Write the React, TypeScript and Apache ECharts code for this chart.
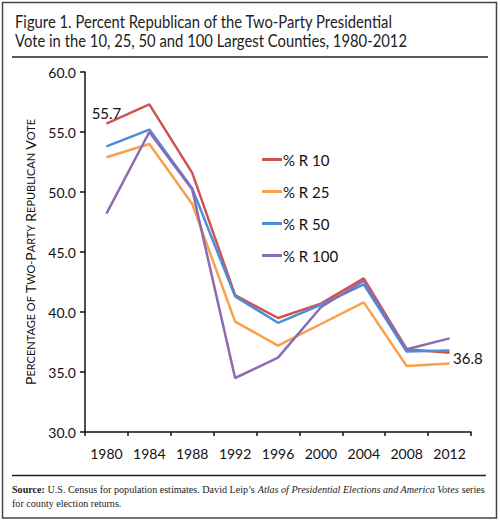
import React, { useEffect, useRef } from "react";
import * as echarts from "echarts";

const years = ["1980", "1984", "1988", "1992", "1996", "2000", "2004", "2008", "2012"];
const r10 = [55.7, 57.3, 51.6, 41.4, 39.5, 40.7, 42.8, 36.9, 36.6];
const r25 = [52.9, 54.0, 49.0, 39.2, 37.2, 39.0, 40.8, 35.5, 35.7];
const r50 = [53.8, 55.2, 50.3, 41.3, 39.1, 40.6, 42.3, 36.7, 36.8];
const r100 = [48.2, 55.0, 50.2, 34.5, 36.2, 40.4, 42.6, 36.9, 37.8];
const seriesNames = ["% R 10", "% R 25", "% R 50", "% R 100"];
const colors = ["#cf5450", "#f9a04b", "#4a8dd8", "#8c6bb1"];
const yTicks = { min: 30, max: 60, interval: 5 };

const titleLines = [
  "Figure 1. Percent Republican of the Two-Party Presidential",
  "Vote in the 10, 25, 50 and 100 Largest Counties, 1980-2012",
];
const sourceLine1 =
  "{b|Source:} U.S. Census for population estimates. David Leip\u2019s {i|Atlas of Presidential Elections and America Votes} series";
const sourceLine2 = "for county election returns.";

const FONT = "Lato, 'Open Sans', sans-serif";
const SERIF = "'Liberation Serif', 'DejaVu Serif', serif";

function measure(font: string, text: string): number {
  const c = document.createElement("canvas").getContext("2d");
  if (!c) return text.length * 5;
  c.font = font;
  return c.measureText(text).width;
}

export default function App() {
  const ref = useRef<HTMLDivElement>(null);
  useEffect(() => {
    if (!ref.current) return;
    const chart = echarts.init(ref.current, undefined, { renderer: "svg" });

    const fs = 11;
    const w1 =
      measure(`bold ${fs}px ${SERIF}`, "Source:") +
      measure(`${fs}px ${SERIF}`, " U.S. Census for population estimates. David Leip\u2019s ") +
      measure(`italic ${fs}px ${SERIF}`, "Atlas of Presidential Elections and America Votes") +
      measure(`${fs}px ${SERIF}`, " series");
    const sx = 473 / w1;

    const tfs = 17;
    const tw = measure(`${tfs}px ${FONT}`, titleLines[0]);
    const tsx = 378 / tw;

    const mkLabel = (position: string, offset: number[]) => ({
      show: true,
      position,
      distance: 3,
      offset,
      formatter: (p: any) => Number(p.value).toFixed(1),
      fontSize: 15,
      fontFamily: FONT,
      color: "#111",
    });

    const allData = [r10, r25, r50, r100];
    const series = allData.map((d, i) => ({
      name: seriesNames[i],
      type: "line",
      symbol: "circle",
      symbolSize: 1,
      showSymbol: true,
      data: d.map((v, j) => {
        if (i === 0 && j === 0) {
          return { value: v, label: mkLabel("top", [0, 0]) };
        }
        if (i === 2 && j === d.length - 1) {
          return { value: v, label: mkLabel("right", [0, 8]) };
        }
        return v;
      }),
      lineStyle: { color: colors[i], width: 2.5 },
      itemStyle: { color: "rgba(0,0,0,0)", borderWidth: 0 },
      emphasis: { disabled: true },
      z: 2 + i,
    }));

    chart.setOption({
      animation: false,
      backgroundColor: "#fff",
      grid: { left: 85, right: 29, top: 72, bottom: 89, containLabel: false },
      legend: {
        orient: "vertical",
        left: 262,
        top: 152,
        padding: 0,
        itemWidth: 20,
        itemHeight: 3,
        itemGap: 17,
        icon: "rect",
        textStyle: { fontSize: 15, fontFamily: FONT, color: "#111", padding: [0, 0, 0, -4] },
        data: seriesNames.map((n, i) => ({ name: n, itemStyle: { color: colors[i] } })),
      },
      xAxis: {
        type: "category",
        data: years,
        boundaryGap: true,
        axisLine: { lineStyle: { color: "#111", width: 1.5 } },
        axisTick: { show: true, length: 4, lineStyle: { color: "#111", width: 1.5 } },
        axisLabel: { fontSize: 14, fontFamily: FONT, color: "#111", margin: 14 },
      },
      yAxis: {
        type: "value",
        min: yTicks.min,
        max: yTicks.max,
        interval: yTicks.interval,
        splitLine: { show: false },
        axisLine: { show: true, lineStyle: { color: "#111", width: 1.5 } },
        axisTick: { show: true, length: 5, lineStyle: { color: "#111", width: 1.5 } },
        axisLabel: {
          fontSize: 14,
          fontFamily: FONT,
          color: "#111",
          margin: 9,
          formatter: (v: number) => v.toFixed(1),
        },
        name:
          "{a|P}{b|ERCENTAGE OF} {a|T}{b|WO}{b|-}{a|P}{b|ARTY} {a|R}{b|EPUBLICAN} {a|V}{b|OTE}",
        nameLocation: "middle",
        nameGap: 47,
        nameRotate: 90,
        nameTextStyle: {
          fontFamily: FONT,
          color: "#111",
          rich: {
            a: { fontSize: 14, fontFamily: FONT, color: "#111" },
            b: { fontSize: 11, fontFamily: FONT, color: "#111" },
          },
        },
      },
      series,
      graphic: [
        {
          type: "rect",
          shape: { x: 2.5, y: 2.5, width: 494, height: 515.5 },
          style: { fill: "none", stroke: "#444", lineWidth: 1.5 },
          silent: true,
        },
        {
          type: "text",
          x: 15,
          y: 21,
          scaleX: tsx,
          style: {
            text: titleLines[0],
            fontSize: tfs,
            fontFamily: FONT,
            fill: "#222",
            verticalAlign: "middle",
          },
        },
        {
          type: "text",
          x: 15,
          y: 40,
          scaleX: tsx,
          style: {
            text: titleLines[1],
            fontSize: tfs,
            fontFamily: FONT,
            fill: "#222",
            verticalAlign: "middle",
          },
        },
        {
          type: "line",
          shape: { x1: 12, y1: 57, x2: 488, y2: 57 },
          style: { stroke: "#222", lineWidth: 1.5 },
        },
        {
          type: "line",
          shape: { x1: 12, y1: 475.5, x2: 486, y2: 475.5 },
          style: { stroke: "#222", lineWidth: 1.5 },
        },
        {
          type: "text",
          x: 12,
          y: 489,
          scaleX: sx,
          style: {
            text: sourceLine1,
            fontSize: fs,
            fontFamily: SERIF,
            fill: "#222",
            verticalAlign: "middle",
            rich: {
              b: { fontWeight: "bold", fontSize: fs, fontFamily: SERIF, fill: "#222" },
              i: { fontStyle: "italic", fontSize: fs, fontFamily: SERIF, fill: "#222" },
            },
          },
        },
        {
          type: "text",
          x: 12,
          y: 503,
          scaleX: sx,
          style: {
            text: sourceLine2,
            fontSize: fs,
            fontFamily: SERIF,
            fill: "#222",
            verticalAlign: "middle",
          },
        },
      ],
    });
    return () => chart.dispose();
  }, []);
  return (
    <div
      ref={ref}
      style={{ position: "absolute", left: 0, top: 0, width: 500, height: 521 }}
    />
  );
}
